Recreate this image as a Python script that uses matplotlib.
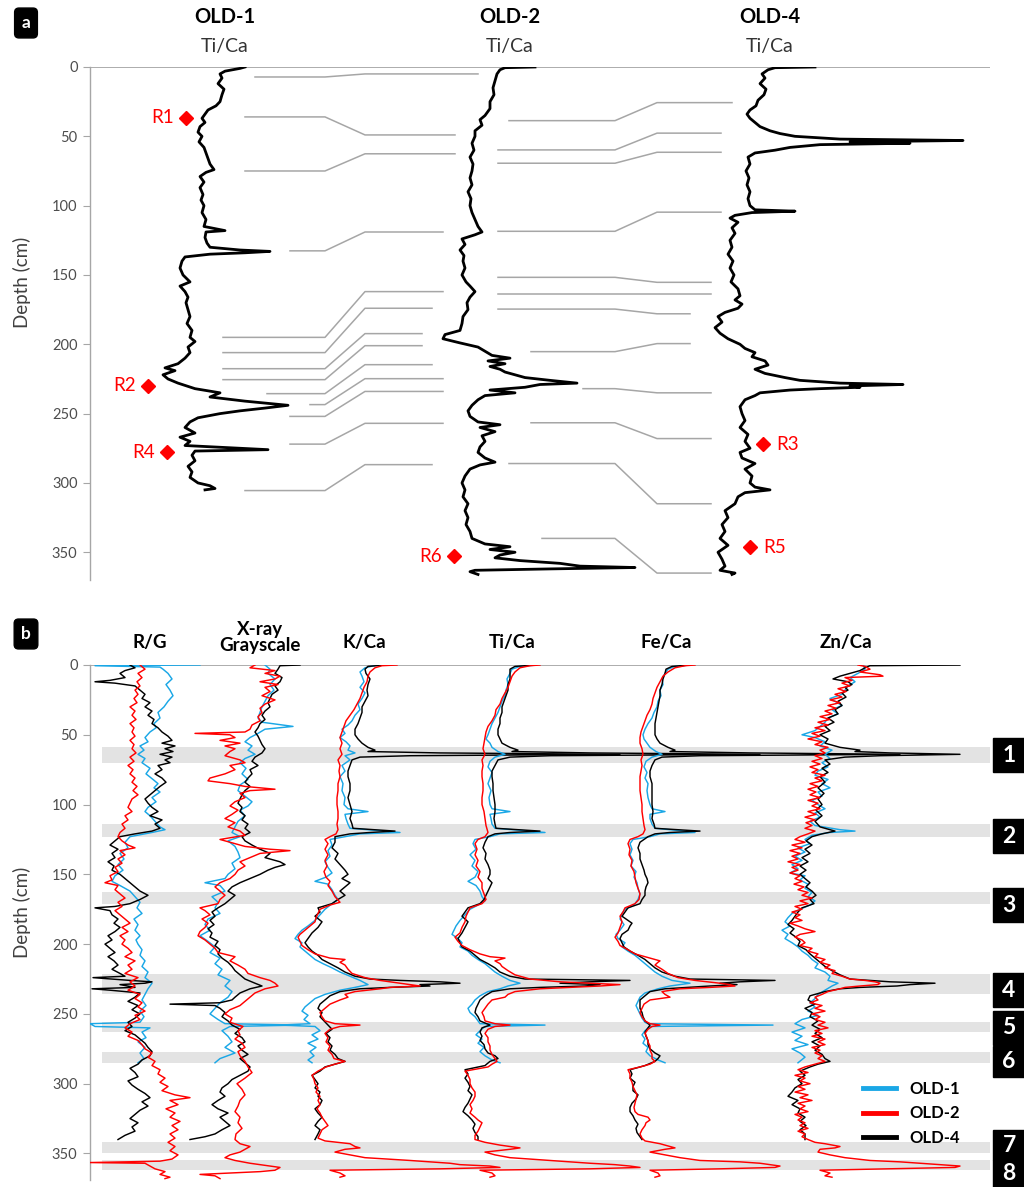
import matplotlib
matplotlib.use("Agg")
import matplotlib.pyplot as plt
from matplotlib.lines import Line2D
from matplotlib.patches import Rectangle

plt.rcParams['font.family'] = ['Lato', 'DejaVu Sans']

BLUE = '#1aa7e6'
RED = '#ff0000'
GREY = '#a6a6a6'

# ---------------- panel a : Ti/Ca, one trace per core (depth, scaled value)
a_old1 = [(0,95),(1,90),(3,75),(5,70),(8,72),(12,68),(16,74),(20,72),(25,70),(28,66),(31,58),(34,55),(37,52),
          (40,55),(43,50),(47,48),(50,52),(54,49),(58,54),(62,56),(66,58),(70,60),(74,64),(76,56),(79,50),(83,54),
          (87,50),(92,53),(96,51),(100,54),(105,52),(110,56),(115,54),(118,75),(119,56),(123,55),(127,57),(130,60),
          (132,90),(133,120),(134,95),(135,60),(137,35),(140,32),(145,30),(150,33),(155,40),(158,30),(162,35),
          (166,38),(170,36),(175,38),(180,40),(185,37),(190,42),(195,40),(198,45),(202,38),(206,40),(210,35),
          (214,28),(217,15),(219,25),(222,13),(225,18),(228,28),(232,45),(235,70),(238,60),(241,95),(244,138),
          (246,115),(248,90),(250,70),(253,48),(256,40),(260,35),(264,45),(267,30),(270,40),(273,35),(276,118),
          (277,45),(280,42),(284,45),(288,38),(292,42),(296,40),(300,48),(302,60),(304,65),(305,55)]
a_old2 = [(0,105),(0.5,75),(2,70),(5,67),(10,65),(15,63),(20,64),(25,60),(30,60),(35,55),(38,50),(42,52),(46,45),
          (50,45),(55,42),(60,44),(65,40),(70,43),(75,42),(80,40),(85,42),(90,38),(95,41),(100,40),(105,42),(110,45),
          (115,48),(119,52),(121,45),(124,32),(128,35),(132,30),(136,34),(140,33),(145,35),(150,32),(155,36),(158,40),
          (162,45),(166,40),(170,37),(175,38),(180,33),(185,32),(190,30),(193,15),(196,13),(199,30),(202,48),(205,55),
          (208,62),(210,80),(212,58),(214,75),(216,60),(218,70),(220,75),(222,85),(224,95),(226,120),(228,147),
          (229,110),(231,95),(233,60),(235,85),(237,55),(240,48),(244,42),(248,38),(252,40),(256,48),(258,70),
          (260,50),(263,65),(266,52),(270,55),(274,50),(278,48),(282,55),(285,65),(287,50),(290,40),(295,35),
          (300,32),(305,35),(310,33),(315,38),(320,35),(325,38),(330,36),(335,40),(340,42),(344,55),(346,80),
          (348,60),(350,85),(352,70),(354,65),(356,90),(358,130),(360,150),(361,205),(362,120),(363,45),(364,40),
          (366,48)]
a_old4 = [(0,115),(0.5,75),(2,68),(5,62),(8,65),(12,60),(16,66),(20,64),(24,58),(28,56),(31,50),(34,47),(37,50),
          (40,55),(43,60),(46,70),(48,80),(50,95),(52,140),(53,263),(54,150),(55,210),(56,120),(58,90),(60,75),
          (62,55),(65,48),(70,50),(75,46),(80,49),(85,47),(90,50),(95,48),(100,50),(103,55),(104,95),(105,52),
          (107,35),(109,30),(112,38),(116,32),(120,35),(125,30),(130,32),(135,28),(140,33),(145,30),(150,34),
          (155,31),(160,38),(165,40),(168,35),(171,42),(174,38),(177,25),(180,18),(184,22),(188,15),(192,20),
          (196,28),(200,40),(203,45),(206,55),(209,52),(212,65),(215,68),(218,55),(221,65),(224,85),(226,100),
          (228,140),(229,203),(230,150),(231,160),(232,120),(233,90),(235,60),(237,55),(240,45),(245,40),(250,42),
          (255,45),(260,40),(265,48),(270,45),(275,50),(278,40),(282,42),(286,55),(290,45),(295,52),(300,50),
          (303,55),(305,70),(307,45),(310,38),(315,35),(320,25),(325,28),(330,22),(335,25),(340,20),(345,28),
          (350,18),(355,22),(360,25),(363,20),(365,35),(366,32)]

# correlation tie points (depth in left core, depth in right core)
ties_1_2 = [(7.2,5.0),(36,49),(75,62.6),(132.6,119),(195,162),(206,174),(217.6,192.3),(225.5,201),
            (235.6,214.7),(243.5,224.8),(252,234),(272,257),(305.5,286.8)]
ties_2_4 = [(38.7,25.7),(59.8,47.7),(69.4,61.5),(118.5,104.7),(151.7,155.3),(164,164),(174.6,178),
            (205.3,199.5),(232,235),(256.6,268),(286,315),(340,365)]

samples = ['R1', 'R2', 'R4', 'R6', 'R3', 'R5']
sample_core = ['OLD-1', 'OLD-1', 'OLD-1', 'OLD-2', 'OLD-4', 'OLD-4']
sample_depth = [36.7, 230, 278, 353, 272, 346.5]

# ---------------- panel b : six proxies x three cores
rg_old1 = [(0,110),(0.5,5),(1.5,70),(3,73),(6,78),(10,82),(14,76),(18,80),(22,83),(26,78),(30,74),(34,68),(38,70),
           (42,64),(45,66),(48,60),(52,55),(55,58),(58,50),(61,54),(64,48),(67,55),(70,52),(74,60),(78,56),(82,63),
           (85,68),(88,64),(91,70),(95,62),(98,66),(102,58),(105,55),(108,60),(112,65),(116,70),(118,75),(120,62),
           (123,40),(127,35),(131,38),(135,30),(139,34),(143,28),(147,33),(151,25),(155,22),(158,30),(162,40),
           (166,45),(170,50),(174,47),(178,52),(182,44),(186,48),(190,45),(194,50),(197,46),(200,48),(204,52),
           (208,50),(212,55),(216,52),(220,58),(224,55),(228,62),(232,58),(236,55),(240,52),(244,56),(248,50),
           (252,54),(256,50),(257,0),(259,5),(260,60),(263,52),(267,56),(270,48),(274,55),(278,50),(282,54),(285,48)]
rg_old4 = [(0,40),(2,45),(4,35),(6,30),(9,35),(11,20),(12,5),(13,25),(15,45),(18,50),(21,55),(24,52),(27,60),(30,55),
           (33,62),(36,58),(39,64),(42,62),(45,68),(48,72),(51,78),(54,82),(56,72),(58,85),(60,75),(62,83),(64,70),
           (66,82),(68,75),(70,80),(72,68),(75,72),(78,65),(81,72),(84,76),(87,70),(90,65),(93,60),(96,55),(99,58),
           (102,62),(105,68),(108,60),(111,72),(114,65),(117,70),(119,62),(121,45),(123,30),(126,25),(129,20),
           (132,28),(135,22),(138,25),(141,18),(144,24),(147,22),(150,30),(153,35),(156,40),(159,45),(162,50),
           (165,58),(168,50),(171,40),(173,25),(174,5),(176,20),(179,22),(182,28),(185,24),(188,30),(191,25),
           (194,18),(197,22),(200,15),(203,20),(206,25),(209,18),(212,24),(215,28),(218,22),(221,30),(223,35),
           (224,3),(226,40),(227,62),(228,55),(229,30),(231,45),(232,2),(233,20),(235,50),(238,45),(241,38),
           (244,48),(247,42),(250,50),(253,45),(256,38),(259,42),(262,35),(265,45),(268,50),(271,55),(274,58),
           (277,62),(280,60),(283,52),(286,48),(289,40),(292,45),(295,48),(298,38),(301,42),(304,48),(307,55),
           (310,60),(313,52),(316,58),(319,50),(322,45),(325,40),(328,48),(331,42),(334,45),(337,35),(340,28)]
rg_old2 = [(0,50),(3,55),(6,48),(9,52),(12,47),(15,50),(18,45),(21,48),(24,44),(27,47),(30,40),(33,45),(36,42),
           (39,46),(42,40),(45,44),(48,42),(51,45),(54,40),(57,44),(60,42),(63,46),(66,40),(69,44),(72,38),(75,43),
           (78,40),(81,45),(84,42),(87,47),(90,43),(93,48),(96,42),(99,40),(102,38),(105,42),(108,35),(111,38),
           (114,32),(117,35),(120,30),(123,28),(126,32),(129,38),(131,45),(133,30),(136,35),(139,28),(142,32),
           (145,25),(148,28),(151,20),(154,22),(156,15),(158,28),(161,25),(164,30),(167,35),(170,28),(173,32),
           (176,25),(179,30),(182,35),(185,40),(188,32),(191,38),(194,30),(197,35),(200,32),(203,38),(206,42),
           (209,35),(212,45),(215,38),(218,42),(221,35),(224,48),(227,40),(230,45),(233,38),(236,50),(239,45),
           (242,52),(245,48),(248,55),(251,45),(254,50),(257,40),(260,35),(263,42),(266,38),(269,48),(272,52),
           (275,55),(278,62),(281,58),(284,65),(287,62),(290,70),(293,68),(296,75),(299,70),(302,78),(305,72),
           (308,85),(310,100),(312,80),(315,88),(318,76),(321,85),(324,80),(327,90),(330,82),(333,88),(336,80),
           (339,85),(342,78),(345,85),(348,80),(351,88),(354,82),(355.5,70),(356.5,0),(357,55),(359,60),(361,65),
           (363,75),(365,70),(367,80),(368,75)]

xr_old1 = [(0,75),(3,80),(6,78),(10,85),(14,80),(18,84),(22,78),(26,75),(30,72),(34,70),(38,68),(41,72),(44,103),
           (46,75),(49,68),(52,60),(55,55),(58,62),(61,58),(64,65),(67,55),(70,50),(74,56),(78,52),(82,58),(86,50),
           (90,48),(94,55),(98,62),(101,58),(104,50),(108,55),(112,48),(116,45),(120,42),(123,50),(126,38),(130,45),
           (134,48),(138,50),(142,42),(146,45),(150,38),(153,35),(156,15),(158,30),(162,35),(166,22),(170,28),
           (174,25),(178,30),(182,18),(186,15),(190,20),(194,10),(198,18),(202,25),(206,20),(210,30),(214,25),
           (218,32),(222,28),(226,40),(230,35),(234,42),(238,38),(242,30),(246,25),(250,20),(254,28),(257,35),
           (258,110),(259,40),(262,32),(266,38),(270,42),(274,35),(278,45),(282,30),(285,25)]
xr_old4 = [(0,110),(0.5,90),(3,88),(6,85),(9,92),(12,90),(15,85),(18,88),(21,82),(24,80),(27,78),(30,80),(33,75),
           (36,72),(39,75),(42,70),(45,68),(48,65),(51,68),(54,70),(57,72),(60,75),(63,72),(66,65),(69,62),(72,68),
           (75,60),(78,62),(81,58),(84,55),(87,60),(90,55),(93,52),(96,50),(99,48),(102,52),(105,50),(108,55),
           (111,52),(114,58),(117,55),(120,60),(123,52),(126,55),(129,62),(132,70),(135,80),(138,75),(141,90),
           (143,95),(145,85),(147,78),(150,70),(153,60),(156,50),(159,42),(162,38),(165,45),(168,40),(171,35),
           (174,28),(177,22),(180,25),(183,20),(186,24),(189,18),(192,22),(195,20),(198,28),(201,25),(204,30),
           (207,28),(210,32),(213,38),(216,42),(219,45),(222,50),(225,55),(228,65),(230,72),(232,60),(235,50),
           (238,45),(240,42),(242,30),(243,-20),(244,25),(246,30),(249,35),(252,32),(255,38),(258,42),(261,50),
           (264,45),(267,52),(270,55),(273,48),(276,52),(279,58),(282,50),(285,55),(288,60),(291,58),(294,50),
           (297,42),(300,38),(303,32),(306,30),(309,35),(312,28),(315,22),(318,28),(321,38),(324,30),(327,35),
           (330,40),(333,32),(336,25),(338,15),(340,0)]
xr_old2 = [(0,65),(2,60),(4,85),(6,75),(8,90),(10,85),(12,70),(14,88),(16,75),(19,80),(22,72),(25,85),(28,75),
           (31,70),(34,72),(37,68),(40,70),(43,62),(46,60),(48,55),(49,5),(50,40),(52,45),(54,30),(56,50),(58,35),
           (60,45),(62,40),(65,35),(68,50),(70,55),(72,40),(75,45),(78,35),(81,20),(83,18),(85,40),(87,55),(89,85),
           (90,60),(92,50),(95,55),(98,45),(101,40),(104,48),(107,42),(110,35),(113,45),(116,38),(119,50),(122,55),
           (125,30),(127,40),(130,55),(132,80),(133,100),(135,70),(138,60),(141,50),(144,55),(147,48),(150,45),
           (153,40),(156,30),(159,25),(162,30),(165,35),(168,30),(171,28),(174,10),(176,15),(179,20),(182,12),
           (185,18),(188,15),(191,10),(194,8),(197,15),(200,20),(203,25),(206,28),(209,45),(212,40),(215,48),
           (218,55),(221,58),(224,70),(226,80),(228,85),(230,88),(232,75),(235,65),(238,60),(241,55),(244,50),
           (247,40),(250,35),(253,42),(256,40),(259,53),(262,48),(265,50),(268,45),(271,52),(274,55),(277,48),
           (280,50),(284,55),(288,58),(292,62),(296,55),(300,47),(304,52),(308,55),(312,50),(316,48),(320,45),
           (324,50),(328,48),(332,52),(336,46),(340,45),(343,50),(345,60),(347,55),(349,50),(351,40),(353,35),
           (355,45),(357,60),(359,80),(360,90),(362,85),(363,70),(364,40),(365,10),(366,25),(368,30)]

kc_old1 = [(0,87),(2,75),(5,70),(8,72),(12,74),(16,70),(20,75),(24,72),(28,68),(32,70),(36,65),(40,62),(43,58),
           (46,52),(49,55),(52,50),(55,56),(58,60),(61,58),(63,65),(65,55),(68,60),(72,52),(76,55),(80,50),(85,53),
           (90,52),(95,55),(100,54),(103,58),(105,78),(107,55),(110,56),(114,58),(117,60),(119,95),(120,110),
           (121,70),(123,55),(125,40),(129,42),(133,38),(137,40),(141,35),(145,38),(149,42),(152,36),(155,25),
           (157,38),(161,42),(165,45),(168,48),(171,42),(175,35),(179,30),(183,25),(187,18),(190,12),(193,8),
           (196,5),(199,12),(202,10),(205,15),(208,20),(211,25),(214,33),(217,42),(220,50),(223,60),(226,70),
           (229,78),(231,65),(233,50),(236,35),(239,25),(242,20),(245,15),(248,12),(251,18),(254,14),(257,20),
           (258,-10),(259,25),(262,30),(265,22),(268,28),(271,18),(274,26),(277,20),(280,24),(283,18),(285,22)]
kc_old4 = [(0,95),(1,78),(3,75),(6,76),(10,80),(14,78),(18,77),(22,78),(26,75),(30,72),(34,72),(38,70),(42,68),
           (46,65),(50,65),(53,68),(56,72),(59,78),(61,85),(62,78),(63,150),(64,330),(65,120),(66,70),(68,62),
           (72,60),(76,58),(80,58),(85,60),(90,60),(95,58),(100,60),(105,62),(110,60),(114,62),(117,63),(119,105),
           (120,80),(121,60),(123,45),(127,45),(131,42),(135,48),(139,45),(143,50),(147,55),(150,58),(153,52),
           (156,60),(159,55),(162,50),(165,55),(168,48),(171,42),(174,28),(177,30),(180,25),(184,32),(188,28),
           (192,22),(196,18),(199,15),(202,18),(205,22),(208,28),(211,32),(214,40),(217,48),(220,55),(223,65),
           (225,80),(226,110),(227,150),(228,170),(229,130),(230,140),(231,100),(232,70),(234,50),(237,40),
           (240,35),(243,30),(246,28),(249,32),(252,30),(255,34),(258,38),(261,42),(264,36),(267,40),(270,38),
           (273,42),(276,40),(279,45),(282,48),(284,55),(286,45),(288,35),(291,30),(294,22),(297,25),(300,28),
           (303,25),(306,30),(309,28),(312,32),(315,30),(318,25),(321,28),(324,32),(327,28),(330,25),(333,30),
           (336,28),(340,25)]
kc_old2 = [(0,107),(0.5,92),(2,85),(5,80),(8,78),(12,77),(16,74),(20,72),(24,70),(28,67),(32,64),(36,60),(40,56),
           (44,54),(48,52),(52,50),(56,52),(60,50),(64,52),(68,48),(72,50),(76,49),(80,50),(85,48),(90,48),(95,47),
           (100,47),(105,48),(110,48),(114,47),(118,48),(121,46),(123,40),(125,35),(128,38),(132,35),(136,38),
           (140,35),(144,37),(148,34),(152,36),(155,40),(158,38),(162,42),(166,45),(170,50),(172,40),(175,30),
           (178,28),(181,26),(184,25),(187,20),(190,15),(193,10),(195,8),(198,10),(201,12),(204,18),(207,25),
           (210,40),(211,55),(213,50),(215,55),(218,58),(221,62),(224,75),(226,90),(228,110),(229,120),(230,130),
           (231,100),(232,90),(234,65),(236,55),(238,58),(240,50),(243,40),(246,35),(249,30),(252,32),(255,35),
           (257,45),(258,70),(259,50),(261,40),(264,35),(267,38),(270,36),(273,40),(276,38),(279,42),(282,44),
           (284,55),(286,45),(288,36),(291,28),(294,22),(297,24),(300,25),(303,28),(306,26),(309,30),(312,28),
           (315,30),(318,27),(321,30),(324,32),(327,35),(330,38),(333,32),(336,30),(339,28),(341,35),(343,60),
           (345,65),(346,70),(347,55),(349,45),(351,60),(353,75),(355,120),(357,160),(358,170),(359,200),(360,210),
           (361,150),(362,40),(364,50),(366,55),(367,50)]

tc_old1 = [(0,97),(1,80),(3,72),(6,70),(10,67),(14,68),(18,66),(22,65),(26,62),(30,60),(34,58),(38,55),(42,52),
           (46,50),(50,48),(53,46),(56,50),(59,52),(62,58),(64,65),(66,55),(69,50),(73,48),(77,52),(81,50),(85,48),
           (90,51),(95,49),(100,50),(103,52),(105,70),(107,50),(110,51),(114,52),(117,55),(119,90),(120,105),
           (121,60),(123,50),(125,35),(128,33),(132,36),(136,30),(140,35),(144,32),(148,38),(152,35),(155,28),
           (158,36),(162,40),(166,42),(169,45),(172,38),(175,30),(179,25),(183,20),(187,16),(190,14),(193,12),
           (196,18),(199,22),(202,20),(205,28),(208,32),(211,38),(214,45),(217,50),(220,55),(223,62),(226,70),
           (228,80),(230,68),(232,60),(234,48),(237,40),(240,35),(243,32),(246,28),(249,30),(252,35),(255,38),
           (257,40),(258,105),(259,45),(262,40),(265,36),(268,42),(271,38),(274,44),(277,40),(280,45),(283,52),
           (285,60)]
tc_old4 = [(0,95),(1,75),(3,70),(6,70),(10,70),(14,68),(18,68),(22,66),(26,64),(30,62),(34,62),(38,60),(42,60),
           (46,58),(50,58),(53,60),(56,62),(59,70),(61,78),(62,72),(63,150),(64,320),(65,110),(66,70),(68,58),
           (72,55),(76,52),(80,52),(85,53),(90,53),(95,54),(100,55),(105,55),(110,54),(114,55),(117,56),(119,100),
           (120,70),(121,55),(123,48),(127,45),(131,43),(135,46),(139,45),(143,48),(147,50),(150,50),(153,48),
           (156,52),(159,50),(162,48),(165,46),(168,44),(171,40),(174,28),(177,25),(180,22),(184,28),(188,25),
           (192,22),(196,18),(199,20),(202,22),(205,30),(208,35),(211,40),(214,48),(217,55),(220,60),(223,70),
           (225,85),(226,190),(227,150),(228,120),(229,160),(230,145),(231,100),(232,70),(234,52),(237,45),
           (240,40),(243,38),(246,36),(249,35),(252,38),(255,40),(258,50),(260,42),(263,40),(266,42),(269,40),
           (272,44),(275,45),(278,48),(280,55),(282,58),(284,50),(287,45),(290,25),(293,28),(296,25),(299,28),
           (302,30),(305,28),(308,32),(311,30),(314,28),(317,25),(320,23),(323,28),(326,32),(329,35),(332,33),
           (335,35),(338,38),(340,38)]
tc_old2 = [(0,100),(0.5,90),(2,80),(5,75),(8,72),(12,70),(16,68),(20,65),(24,62),(28,60),(32,56),(36,55),(40,52),
           (44,48),(48,46),(52,45),(56,44),(60,43),(64,45),(68,42),(72,43),(76,42),(80,42),(85,43),(90,43),(95,42),
           (100,42),(105,44),(110,45),(115,46),(120,48),(123,45),(125,38),(128,35),(132,37),(136,35),(140,38),
           (144,36),(148,40),(152,38),(156,42),(160,42),(164,44),(168,46),(171,42),(174,30),(177,28),(180,26),
           (184,25),(188,22),(192,20),(195,15),(198,18),(201,22),(204,30),(207,40),(209,50),(210,65),(212,55),
           (214,60),(216,62),(219,68),(222,75),(225,90),(227,120),(228,150),(229,180),(230,160),(231,130),
           (232,100),(234,75),(236,68),(238,65),(240,52),(243,48),(246,45),(249,42),(252,44),(255,45),(257,55),
           (258,70),(259,55),(261,48),(264,45),(267,48),(270,48),(273,50),(276,50),(279,52),(282,55),(284,57),
           (286,52),(288,48),(291,25),(294,28),(297,30),(300,30),(303,32),(306,35),(309,35),(312,33),(315,30),
           (318,32),(321,30),(324,35),(326,38),(328,42),(331,40),(334,38),(337,35),(340,35),(342,45),(344,60),
           (346,80),(347,70),(349,45),(351,55),(353,70),(355,110),(357,150),(358,175),(359,190),(360,200),
           (361,150),(362,40),(364,52),(366,55),(367,50)]

fc_old1 = [(0,90),(1,75),(3,68),(6,65),(10,62),(14,63),(18,60),(22,61),(26,58),(30,57),(34,54),(38,52),(42,48),
           (46,45),(50,43),(53,44),(56,47),(59,50),(62,56),(64,62),(66,52),(69,46),(73,44),(77,47),(81,45),(85,48),
           (90,47),(95,48),(100,50),(103,52),(105,65),(107,50),(110,50),(114,52),(117,55),(119,85),(120,95),
           (121,60),(123,50),(125,33),(128,30),(132,32),(136,30),(140,33),(144,31),(148,36),(152,34),(156,37),
           (160,38),(164,40),(168,38),(172,34),(175,25),(178,22),(182,20),(186,24),(190,20),(193,16),(196,18),
           (199,25),(202,22),(205,28),(208,35),(211,40),(214,45),(217,50),(220,55),(223,62),(226,72),(228,90),
           (230,70),(232,58),(235,45),(238,40),(241,38),(244,36),(247,38),(250,40),(253,42),(256,45),(257,48),
           (258,173),(259,50),(262,45),(265,42),(268,45),(271,43),(274,48),(277,46),(280,50),(283,58),(285,65)]
fc_old4 = [(0,90),(1,72),(3,66),(6,65),(10,63),(14,62),(18,60),(22,60),(26,59),(30,58),(34,57),(38,56),(42,55),
           (46,55),(50,55),(53,57),(56,60),(59,68),(61,75),(62,70),(63,150),(64,300),(65,100),(66,62),(68,55),
           (72,52),(76,50),(80,50),(85,52),(90,52),(95,52),(100,52),(105,53),(110,52),(114,54),(117,55),(119,100),
           (120,70),(121,55),(123,48),(127,40),(131,38),(135,40),(139,40),(143,42),(147,44),(150,45),(153,47),
           (156,48),(159,46),(162,45),(165,45),(168,42),(171,40),(174,28),(177,25),(180,22),(183,28),(185,32),
           (187,30),(190,28),(193,22),(196,20),(199,22),(202,24),(205,30),(208,38),(211,45),(214,50),(217,55),
           (220,62),(223,75),(225,90),(226,175),(227,140),(228,120),(229,137),(230,110),(232,65),(234,50),
           (237,45),(240,40),(243,40),(246,40),(249,42),(252,43),(255,45),(258,50),(260,48),(263,45),(266,46),
           (269,48),(272,48),(275,50),(278,55),(280,60),(282,58),(284,55),(287,45),(290,30),(293,32),(296,30),
           (299,35),(302,33),(305,33),(308,38),(311,36),(314,32),(317,30),(320,30),(323,33),(326,35),(329,38),
           (332,36),(335,37),(338,40),(340,42)]
fc_old2 = [(0,95),(0.5,85),(2,75),(5,68),(8,63),(12,60),(16,57),(20,55),(24,53),(28,52),(32,50),(36,47),(40,45),
           (44,43),(48,41),(52,40),(56,40),(60,42),(64,43),(68,41),(72,42),(76,41),(80,40),(85,40),(90,40),(95,41),
           (100,42),(105,42),(110,43),(115,44),(118,45),(121,43),(123,38),(125,30),(128,28),(132,30),(136,29),
           (140,32),(144,31),(148,34),(152,35),(156,36),(160,38),(164,40),(168,39),(171,35),(174,25),(177,23),
           (180,20),(184,22),(188,20),(192,18),(195,15),(198,18),(201,20),(204,28),(207,35),(209,45),(210,50),
           (212,60),(213,58),(215,55),(218,62),(221,68),(224,78),(226,95),(228,120),(229,130),(230,135),(231,110),
           (232,80),(234,62),(236,65),(238,70),(240,50),(243,44),(246,42),(249,40),(252,42),(255,45),(257,50),
           (258,60),(259,52),(261,48),(264,45),(267,47),(270,48),(273,50),(276,50),(279,52),(282,52),(284,55),
           (286,50),(288,40),(290,28),(293,30),(296,30),(299,32),(302,33),(305,35),(308,37),(311,36),(314,35),
           (317,34),(320,35),(322,38),(324,48),(326,50),(328,46),(330,45),(333,42),(336,40),(339,42),(341,45),
           (343,60),(345,70),(346,75),(347,65),(349,50),(351,65),(353,80),(355,100),(356,140),(357,160),(358,170),
           (359,180),(360,175),(361,120),(362,50),(364,58),(366,60),(367,55)]

zc_old1 = [(0,93),(3,95),(6,88),(9,80),(12,85),(15,78),(18,75),(21,72),(24,60),(26,65),(29,72),(32,62),(35,68),
           (38,58),(41,55),(44,50),(47,45),(50,32),(52,45),(55,55),(58,50),(61,62),(64,55),(67,60),(70,52),(73,58),
           (76,48),(79,45),(82,58),(85,52),(88,60),(91,48),(94,52),(97,42),(100,48),(103,55),(106,45),(109,50),
           (112,40),(115,45),(118,70),(119,85),(120,60),(122,42),(125,35),(128,40),(131,28),(134,35),(137,25),
           (140,32),(143,22),(146,28),(149,20),(151,35),(154,30),(157,38),(160,35),(163,42),(166,38),(169,45),
           (172,40),(175,30),(178,22),(181,18),(184,15),(187,20),(190,12),(193,18),(196,15),(199,22),(202,28),
           (205,32),(208,38),(211,42),(214,48),(217,45),(220,55),(223,60),(226,58),(228,68),(230,62),(233,55),
           (236,48),(239,45),(242,40),(245,45),(248,38),(251,48),(254,32),(257,25),(260,35),(263,22),(266,32),
           (269,25),(272,38),(275,22),(278,30),(281,35),(285,28)]
zc_old4 = [(0,190),(0.5,100),(2,95),(4,90),(6,80),(8,70),(10,63),(12,78),(14,82),(16,75),(18,78),(20,72),(23,76),
           (26,68),(29,72),(32,65),(35,68),(38,58),(41,64),(44,55),(47,60),(50,50),(53,58),(56,55),(59,70),(61,90),
           (62,85),(63,120),(64,190),(65,110),(66,75),(68,55),(71,60),(74,52),(77,58),(80,50),(84,55),(88,48),
           (92,54),(96,48),(100,52),(104,46),(108,52),(112,45),(116,50),(119,65),(121,52),(123,42),(126,36),
           (129,42),(132,35),(135,40),(138,32),(141,38),(144,30),(147,36),(150,30),(153,35),(156,40),(159,36),
           (162,42),(165,46),(168,40),(171,44),(174,32),(177,28),(180,25),(183,22),(186,18),(189,24),(192,20),
           (195,26),(198,30),(201,28),(204,36),(207,40),(210,45),(213,50),(216,55),(219,62),(222,70),(225,80),
           (227,120),(228,165),(229,140),(230,127),(231,90),(232,70),(234,55),(237,40),(240,38),(243,45),(246,35),
           (249,42),(252,40),(255,48),(258,42),(261,50),(264,45),(267,52),(270,42),(273,50),(276,45),(279,52),
           (282,55),(284,60),(286,48),(288,40),(291,30),(294,35),(297,28),(300,32),(303,25),(306,22),(309,18),
           (312,28),(315,22),(318,30),(321,28),(324,35),(327,30),(330,36),(333,30),(336,35),(340,35)]
zc_old2 = [(0,88),(1,95),(3,100),(5,90),(7,110),(8,113),(9,75),(11,82),(13,72),(15,80),(17,68),(19,76),(21,65),
           (23,72),(25,60),(27,70),(29,58),(31,66),(33,55),(35,62),(37,50),(39,60),(41,48),(43,58),(45,45),(47,55),
           (49,42),(51,50),(53,38),(55,52),(57,45),(59,58),(61,50),(63,55),(65,45),(67,52),(69,42),(71,50),(73,40),
           (75,48),(77,42),(79,55),(81,45),(83,52),(85,40),(87,48),(89,38),(91,46),(93,40),(95,50),(97,38),(99,48),
           (101,42),(103,50),(105,38),(107,46),(109,35),(111,45),(113,36),(115,42),(117,35),(119,45),(121,38),
           (123,30),(125,25),(127,35),(129,22),(131,32),(133,20),(135,30),(137,22),(139,28),(141,18),(143,30),
           (145,22),(147,28),(149,20),(151,30),(153,25),(155,32),(157,24),(159,34),(161,28),(163,38),(165,32),
           (167,42),(169,30),(171,38),(173,25),(175,32),(177,22),(179,30),(181,25),(183,32),(185,20),(187,28),
           (189,35),(191,45),(193,30),(195,25),(197,32),(199,35),(201,30),(203,42),(205,38),(207,48),(209,45),
           (211,55),(213,50),(215,60),(217,55),(219,65),(221,62),(223,72),(225,80),(226,95),(227,105),(228,110),
           (229,108),(230,90),(231,75),(232,70),(234,58),(236,52),(238,45),(240,48),(242,40),(244,52),(246,45),
           (248,55),(250,42),(252,50),(254,45),(256,55),(258,48),(260,58),(262,45),(264,52),(266,42),(268,55),
           (270,48),(272,55),(274,42),(276,50),(278,45),(280,52),(282,48),(284,55),(286,45),(288,35),(290,28),
           (292,38),(294,25),(296,35),(298,30),(300,40),(302,28),(304,35),(306,25),(308,38),(310,30),(312,42),
           (314,28),(316,35),(318,30),(320,38),(322,25),(324,32),(326,28),(328,35),(330,30),(332,38),(334,28),
           (336,35),(338,32),(340,38),(342,45),(343,55),(345,70),(346,65),(347,50),(349,48),(351,60),(353,75),
           (355,100),(356,130),(357,150),(358,170),(359,190),(360,185),(361,120),(362,50),(364,60),(366,55),
           (367,62)]

proxies = ['R/G', 'X-ray\nGrayscale', 'K/Ca', 'Ti/Ca', 'Fe/Ca', 'Zn/Ca']
proxy_old1 = [rg_old1, xr_old1, kc_old1, tc_old1, fc_old1, zc_old1]
proxy_old2 = [rg_old2, xr_old2, kc_old2, tc_old2, fc_old2, zc_old2]
proxy_old4 = [rg_old4, xr_old4, kc_old4, tc_old4, fc_old4, zc_old4]

# highlighted event layers (top, bottom depth) and numbered tags (centre depth, box height in cm)
events = [(59, 70), (114, 123), (163, 171), (221.5, 235.8), (256, 263), (277.4, 285.3), (342, 349.5), (354.5, 361.7)]
event_tag_depth = [64.5, 122.6, 172, 233, 260, 284, 344, 364.5]
event_tag_size = [24, 24, 24, 24, 24, 22, 22, 20]

# ---------------- layout
W, H = 1024, 1187
fig = plt.figure(figsize=(W / 100, H / 100), dpi=100)
ax_a = fig.add_axes([90 / W, 1 - 580 / H, 900 / W, 513 / H])
ax_b = fig.add_axes([90 / W, 1 - 1180 / H, 900 / W, 515 / H])

core_base_a = {'OLD-1': 150, 'OLD-2': 430, 'OLD-4': 700}
core_title_x = {'OLD-1': 225, 'OLD-2': 510, 'OLD-4': 770}
proxy_base = [90, 190, 290, 440, 600, 770]
proxy_title_x = [150, 260, 364, 512, 666, 846]


def style_axis(ax, top_end, ymax):
    ax.set_xlim(90, 990)
    ax.set_ylim(ymax, 0)
    for s in ['top', 'right', 'bottom']:
        ax.spines[s].set_visible(False)
    ax.spines['left'].set_color(GREY)
    ax.spines['left'].set_linewidth(1.0)
    ax.set_xticks([])
    ax.set_yticks(range(0, 351, 50))
    ax.tick_params(axis='y', length=5, color=GREY, labelcolor='#4d4d4d', labelsize=10.5, pad=4)
    ax.hlines(0, 90, top_end, color=GREY, lw=1.3, zorder=1)
    ax.set_ylabel('Depth (cm)', fontsize=13.5, color='#404040')


style_axis(ax_a, 990, 370)
style_axis(ax_b, 960, 369)
ax_a.yaxis.set_label_coords(-0.066, 0.58)
ax_b.yaxis.set_label_coords(-0.066, 0.52)

# ---- panel a
for core, trace in zip(['OLD-1', 'OLD-2', 'OLD-4'], [a_old1, a_old2, a_old4]):
    d, v = zip(*trace)
    ax_a.plot([core_base_a[core] + x for x in v], d, color='black', lw=2.0, zorder=3)
    ax_a.text(core_title_x[core], -36, core, ha='center', va='center', fontsize=14.5, fontweight='bold',
              clip_on=False)
    ax_a.text(core_title_x[core], -14.5, 'Ti/Ca', ha='center', va='center', fontsize=14, color='#333333',
              clip_on=False)

tie_x_1_2 = [(255, 478), (245, 455), (245, 455), (290, 443), (223, 443), (223, 432), (223, 422), (223, 422),
             (267, 432), (310, 443), (290, 443), (290, 443), (245, 432)]
tie_x_2_4 = [(509, 732), (498, 721), (498, 721), (498, 721), (498, 711), (498, 711), (498, 690), (531, 690),
             (583, 711), (531, 711), (509, 711), (542, 711)]
for (d1, d2), (x0, x1) in zip(ties_1_2, tie_x_1_2):
    ax_a.plot([x0, 325, 365, x1], [d1, d1, d2, d2], color=GREY, lw=1.1, zorder=2)
for (d1, d2), (x0, x1) in zip(ties_2_4, tie_x_2_4):
    ax_a.plot([x0, 615, 657, x1], [d1, d1, d2, d2], color=GREY, lw=1.1, zorder=2)

sample_dx = [36, -2, 17, 24, 63, 50]
for name, core, dep, dx in zip(samples, sample_core, sample_depth, sample_dx):
    x = core_base_a[core] + dx
    ax_a.plot(x, dep, 'D', color=RED, ms=7, zorder=4)
    if core == 'OLD-4':
        ax_a.text(x + 13, dep, name, color=RED, fontsize=13.5, ha='left', va='center')
    else:
        ax_a.text(x - 12, dep, name, color=RED, fontsize=13.5, ha='right', va='center')

# ---- panel b
for top, bot in events:
    ax_b.axhspan(top, bot, xmin=12 / 900, xmax=1.0, color='#e3e3e3', lw=0, zorder=0)

for i, name in enumerate(proxies):
    base = proxy_base[i]
    for trace, col in [(proxy_old1[i], BLUE), (proxy_old4[i], 'black'), (proxy_old2[i], RED)]:
        d, v = zip(*trace)
        ax_b.plot([base + x for x in v], d, color=col, lw=1.05, zorder=3)
    if '\n' in name:
        ax_b.text(proxy_title_x[i], -19.5, name, ha='center', va='center', fontsize=13.5, fontweight='bold',
                  linespacing=0.95, clip_on=False)
    else:
        ax_b.text(proxy_title_x[i], -15.8, name, ha='center', va='center', fontsize=13.5, fontweight='bold',
                  clip_on=False)

for k, (dep, size) in enumerate(zip(event_tag_depth, event_tag_size)):
    ax_b.add_patch(Rectangle((993, dep - size / 2), 32, size, color='black', clip_on=False, zorder=5))
    ax_b.text(1009, dep, str(k + 1), color='white', fontsize=16.5, fontweight='bold', ha='center',
              va='center', clip_on=False, zorder=6)

handles = [Line2D([], [], color=c, lw=3.5) for c in [BLUE, RED, 'black']]
ax_b.legend(handles, ['OLD-1', 'OLD-2', 'OLD-4'], loc='upper left', bbox_to_anchor=(848 / W, 1 - 1066 / H),
            bbox_transform=fig.transFigure, frameon=False, handlelength=2.0, handletextpad=0.8,
            labelspacing=0.5, prop={'size': 12, 'weight': 'bold'})

# ---- panel letters
for letter, ypx in [('a', 23), ('b', 634)]:
    fig.text(26 / W, 1 - ypx / H, letter, color='white', fontsize=12.5, fontweight='bold', ha='center',
             va='center', bbox=dict(boxstyle='round,pad=0.4,rounding_size=0.25', fc='black', ec='black'))

fig.savefig('out.png', dpi=100)
